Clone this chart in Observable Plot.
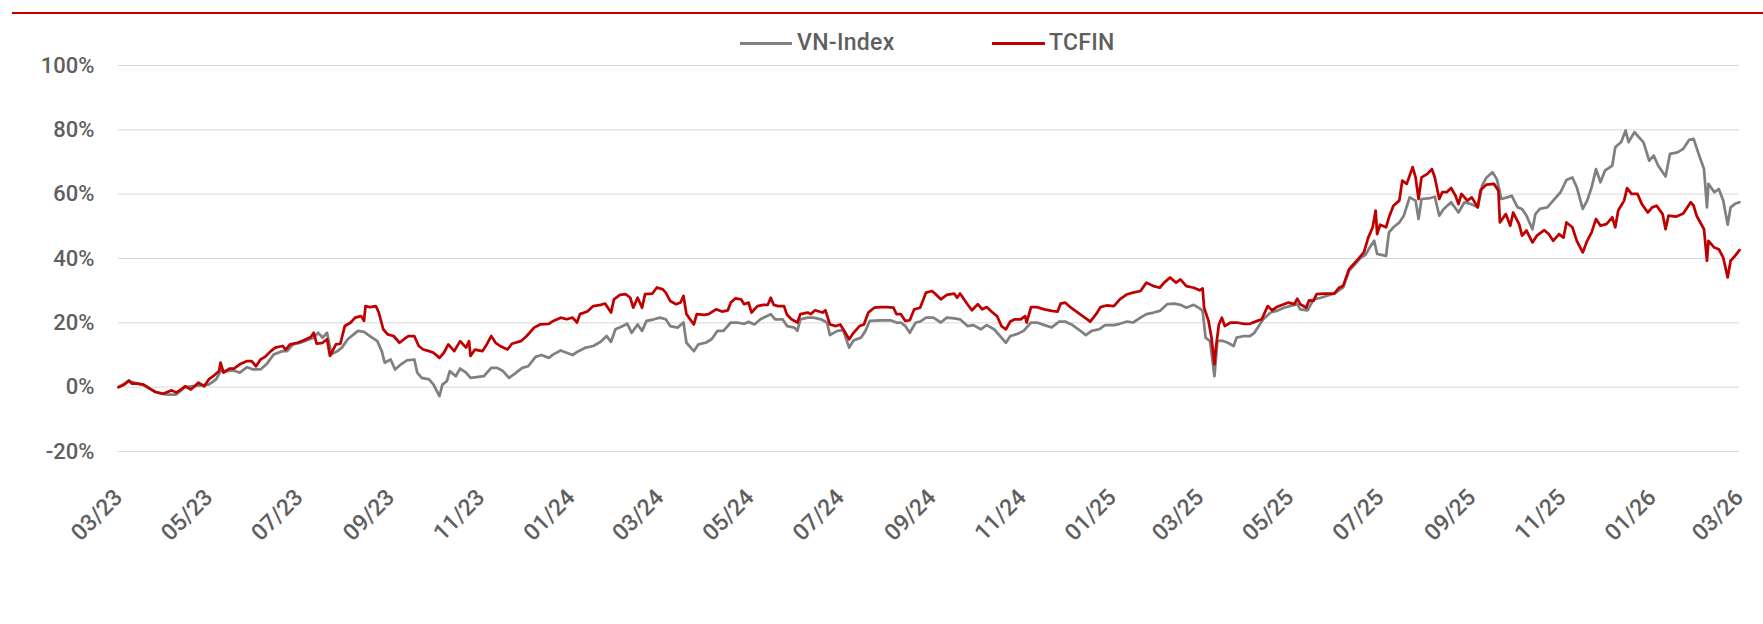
<!DOCTYPE html>
<html>
<head>
<meta charset="utf-8">
<script src="https://cdn.jsdelivr.net/npm/d3@7"></script>
<script src="https://cdn.jsdelivr.net/npm/@observablehq/plot@0.6"></script>
<style>
html,body{margin:0;padding:0;background:#fff;}
#wrap{position:relative;width:1763px;height:624px;overflow:hidden;font-family:Roboto,"DejaVu Sans",sans-serif;font-weight:500;color:#5f5f5f;}
#topline{position:absolute;left:12px;top:12px;width:1751px;height:2px;background:#c00000;}
.sw{position:absolute;height:3px;top:42px;}
.lt{position:absolute;top:29px;font-size:23px;line-height:28px;white-space:nowrap;letter-spacing:0.3px;}
#chart svg{position:absolute;left:0;top:0;}
</style>
</head>
<body>
<div id="wrap">
  <div id="chart"></div>
  <div id="topline"></div>
  <div id="legend"></div>
</div>
<script>
// ---- Data (cumulative return in %) ----
const seriesNames = ["VN-Index", "TCFIN"];
const seriesColors = ["#808080", "#c00000"];
const yTicks = [-20, 0, 20, 40, 60, 80, 100];
const xTickLabels = ["03/23","05/23","07/23","09/23","11/23","01/24","03/24","05/24","07/24","09/24","11/24","01/25","03/25","05/25","07/25","09/25","11/25","01/26","03/26"];

const vnIndex = [
["2023-03-01",0],["2023-03-08",1.9],["2023-03-18",0.6],["2023-03-26",-1.5],["2023-04-03",-2.3],["2023-04-09",-2.3],["2023-04-15",0],["2023-04-23",0.5],
["2023-05-01",0.8],["2023-05-06",2.4],["2023-05-09",5.0],["2023-05-13",5.0],["2023-05-18",5.2],["2023-05-22",4.5],["2023-05-27",6.2],["2023-05-31",5.5],
["2023-06-05",5.5],["2023-06-09",7.1],["2023-06-14",10.2],["2023-06-20",11.2],["2023-06-23",11.2],["2023-06-27",13.3],
["2023-07-02",13.8],["2023-07-06",14.5],["2023-07-11",15.4],["2023-07-14",16.9],["2023-07-17",15.4],["2023-07-20",16.9],["2023-07-23",10.2],["2023-07-27",11.2],["2023-07-30",12.3],
["2023-08-03",14.9],["2023-08-07",16.4],["2023-08-10",17.5],["2023-08-14",17.2],["2023-08-18",15.9],["2023-08-23",14.3],["2023-08-26",11.2],["2023-08-28",7.6],
["2023-09-01",8.6],["2023-09-04",5.5],["2023-09-08",7.1],["2023-09-12",8.3],["2023-09-17",8.6],["2023-09-19",4.5],["2023-09-22",2.9],["2023-09-27",2.4],["2023-09-30",0.8],
["2023-10-04",-2.8],["2023-10-06",0.8],["2023-10-09",1.9],["2023-10-11",5.0],["2023-10-15",3.4],["2023-10-18",5.8],["2023-10-22",4.5],["2023-10-25",2.9],["2023-10-29",3.1],
["2023-11-03",3.4],["2023-11-08",6.0],["2023-11-12",6.0],["2023-11-16",5.0],["2023-11-20",2.9],["2023-11-24",4.2],["2023-11-29",6.0],
["2023-12-03",6.5],["2023-12-08",9.4],["2023-12-12",10.0],["2023-12-17",9.1],["2023-12-20",10.2],["2023-12-25",11.4],["2023-12-29",10.7],
["2024-01-02",10.0],["2024-01-06",11.2],["2024-01-11",12.3],["2024-01-16",12.8],["2024-01-21",14.1],["2024-01-25",15.9],["2024-01-28",14.1],["2024-01-31",18.0],
["2024-02-05",19.0],["2024-02-08",19.7],["2024-02-11",16.9],["2024-02-15",19.5],["2024-02-18",17.5],["2024-02-21",20.6],["2024-02-26",21.1],
["2024-03-01",21.6],["2024-03-05",21.1],["2024-03-08",19.0],["2024-03-13",18.5],["2024-03-17",20.1],["2024-03-19",13.8],["2024-03-24",11.2],["2024-03-27",13.3],
["2024-04-01",13.8],["2024-04-05",14.9],["2024-04-09",17.5],["2024-04-13",17.5],["2024-04-18",20.1],["2024-04-22",20.1],["2024-04-27",19.7],["2024-04-30",20.3],
["2024-05-04",19.5],["2024-05-08",21.1],["2024-05-10",21.6],["2024-05-15",22.7],["2024-05-18",21.1],["2024-05-23",21.1],["2024-05-26",19.0],["2024-05-31",18.5],
["2024-06-02",17.5],["2024-06-04",21.1],["2024-06-09",21.6],["2024-06-13",21.6],["2024-06-18",21.1],["2024-06-22",20.1],["2024-06-24",16.2],["2024-06-29",17.5],
["2024-07-03",17.7],["2024-07-07",12.3],["2024-07-10",14.5],["2024-07-15",15.4],["2024-07-18",17.5],["2024-07-21",20.6],["2024-07-28",20.8],
["2024-08-04",20.8],["2024-08-08",20.1],["2024-08-11",20.1],["2024-08-14",19.0],["2024-08-17",16.9],["2024-08-21",20.1],["2024-08-24",20.4],["2024-08-28",21.6],
["2024-09-02",21.6],["2024-09-07",20.1],["2024-09-11",21.6],["2024-09-16",21.4],["2024-09-20",21.1],["2024-09-25",19.0],["2024-09-29",19.3],
["2024-10-04",18.0],["2024-10-08",19.3],["2024-10-13",18.0],["2024-10-17",15.9],["2024-10-21",13.8],["2024-10-24",15.9],["2024-10-29",16.6],
["2024-11-02",17.5],["2024-11-07",20.1],["2024-11-11",20.1],["2024-11-16",19.3],["2024-11-21",18.6],["2024-11-26",20.4],["2024-11-30",20.4],
["2024-12-05",19.3],["2024-12-09",18.0],["2024-12-14",16.2],["2024-12-18",17.5],["2024-12-23",18.0],["2024-12-27",19.3],
["2025-01-02",19.3],["2025-01-06",19.7],["2025-01-11",20.4],["2025-01-15",20.1],["2025-01-20",21.6],["2025-01-24",22.7],["2025-01-29",23.2],
["2025-02-02",23.7],["2025-02-07",25.8],["2025-02-12",26.0],["2025-02-16",25.6],["2025-02-20",24.7],["2025-02-25",25.6],
["2025-03-01",24.5],["2025-03-03",23.7],["2025-03-05",15.4],["2025-03-08",14.3],["2025-03-11",3.4],["2025-03-13",14.3],["2025-03-16",14.5],["2025-03-20",13.8],["2025-03-24",12.8],["2025-03-26",15.4],["2025-03-31",15.9],
["2025-04-04",15.9],["2025-04-07",16.9],["2025-04-10",19.0],["2025-04-13",21.1],["2025-04-18",23.2],["2025-04-22",23.7],["2025-04-27",24.7],
["2025-05-01",25.2],["2025-05-06",25.8],["2025-05-08",24.2],["2025-05-13",23.9],["2025-05-17",27.3],["2025-05-22",27.8],["2025-05-31",29.1],
["2025-06-06",31.0],["2025-06-10",36.2],["2025-06-14",38.2],["2025-06-18",40.3],["2025-06-21",41.1],["2025-06-24",43.4],["2025-06-27",45.5],["2025-06-29",41.4],
["2025-07-02",41.1],["2025-07-05",40.8],["2025-07-07",48.1],["2025-07-10",49.7],["2025-07-14",51.2],["2025-07-17",53.3],["2025-07-21",59.0],["2025-07-25",58.0],["2025-07-27",52.3],["2025-07-29",58.5],
["2025-08-04",58.8],["2025-08-07",59.2],["2025-08-10",53.3],["2025-08-13",55.4],["2025-08-18",57.5],["2025-08-23",54.3],["2025-08-27",57.5],["2025-08-31",57.0],
["2025-09-05",55.9],["2025-09-08",62.7],["2025-09-11",65.2],["2025-09-15",66.8],["2025-09-18",64.6],["2025-09-21",58.5],["2025-09-25",59.0],["2025-09-28",59.5],
["2025-10-02",55.9],["2025-10-05",55.4],["2025-10-08",53.3],["2025-10-12",49.1],["2025-10-14",53.8],["2025-10-17",55.4],["2025-10-22",55.9],["2025-10-26",58.0],["2025-10-31",60.6],
["2025-11-04",64.4],["2025-11-08",65.2],["2025-11-11",62.1],["2025-11-15",55.4],["2025-11-18",58.0],["2025-11-21",62.1],["2025-11-24",67.8],["2025-11-27",63.7],["2025-11-30",67.3],
["2025-12-05",68.9],["2025-12-07",74.6],["2025-12-11",76.2],["2025-12-14",79.8],["2025-12-16",76.2],["2025-12-20",79.3],["2025-12-23",77.7],["2025-12-26",76.2],["2025-12-30",70.4],
["2026-01-02",72.0],["2026-01-05",68.9],["2026-01-10",65.5],["2026-01-13",72.5],["2026-01-18",73.0],["2026-01-22",74.1],["2026-01-26",76.9],["2026-01-29",77.2],
["2026-02-01",73.0],["2026-02-05",67.8],["2026-02-07",55.9],["2026-02-08",63.2],["2026-02-12",60.6],["2026-02-15",61.6],["2026-02-18",58.0],["2026-02-21",50.5],["2026-02-23",55.9],["2026-02-26",57.0],
["2026-03-01",57.5]
];

const tcfin = [
["2023-03-01",0],["2023-03-05",0.8],["2023-03-08",2.1],["2023-03-10",1.1],["2023-03-14",1.1],["2023-03-18",0.8],["2023-03-23",-0.7],["2023-03-26",-1.5],["2023-03-31",-2.1],
["2023-04-03",-1.5],["2023-04-06",-1.0],["2023-04-09",-1.7],["2023-04-12",-0.8],["2023-04-15",0.3],["2023-04-19",-0.7],["2023-04-22",0.5],["2023-04-24",1.4],["2023-04-28",0.3],
["2023-05-01",2.4],["2023-05-04",3.4],["2023-05-08",5.0],["2023-05-09",7.6],["2023-05-11",4.5],["2023-05-15",5.8],["2023-05-18",5.8],["2023-05-22",7.1],["2023-05-27",8.1],["2023-05-30",8.1],
["2023-06-02",6.5],["2023-06-05",8.6],["2023-06-08",9.4],["2023-06-12",11.2],["2023-06-15",12.3],["2023-06-20",12.8],["2023-06-22",11.7],["2023-06-25",13.3],["2023-06-30",13.8],
["2023-07-04",14.5],["2023-07-09",15.6],["2023-07-11",16.9],["2023-07-13",13.5],["2023-07-17",13.8],["2023-07-20",14.9],["2023-07-22",9.7],["2023-07-26",13.3],["2023-07-29",13.5],
["2023-08-01",19.0],["2023-08-05",20.1],["2023-08-08",21.6],["2023-08-12",22.1],["2023-08-14",20.6],["2023-08-15",25.2],["2023-08-18",24.9],["2023-08-22",25.2],["2023-08-24",23.2],["2023-08-27",18.0],["2023-08-30",16.4],
["2023-09-03",15.9],["2023-09-07",13.8],["2023-09-10",14.9],["2023-09-13",15.9],["2023-09-17",15.9],["2023-09-20",12.8],["2023-09-23",11.7],["2023-09-27",11.2],["2023-09-30",10.7],
["2023-10-04",9.1],["2023-10-07",10.7],["2023-10-10",13.3],["2023-10-14",11.2],["2023-10-18",14.3],["2023-10-22",12.3],["2023-10-24",14.3],["2023-10-25",9.7],["2023-10-28",11.7],
["2023-11-02",11.2],["2023-11-05",13.3],["2023-11-08",15.9],["2023-11-11",13.8],["2023-11-14",12.8],["2023-11-19",11.7],["2023-11-22",13.5],["2023-11-28",14.3],
["2023-12-02",15.9],["2023-12-07",18.5],["2023-12-11",19.5],["2023-12-17",19.7],["2023-12-20",20.6],["2023-12-25",21.6],["2023-12-29",21.1],
["2024-01-02",21.6],["2024-01-05",20.1],["2024-01-07",22.7],["2024-01-12",23.5],["2024-01-16",25.2],["2024-01-21",25.6],["2024-01-24",26.0],["2024-01-28",23.2],["2024-01-30",27.3],
["2024-02-03",28.7],["2024-02-07",28.9],["2024-02-10",27.8],["2024-02-12",24.7],["2024-02-15",27.8],["2024-02-18",24.7],["2024-02-20",28.9],["2024-02-25",29.1],["2024-02-28",31.0],
["2024-03-03",30.4],["2024-03-05",29.4],["2024-03-08",26.8],["2024-03-12",25.8],["2024-03-15",26.3],["2024-03-17",28.4],["2024-03-19",22.7],["2024-03-24",19.5],["2024-03-26",22.7],["2024-03-31",22.5],
["2024-04-03",22.7],["2024-04-08",24.2],["2024-04-12",23.5],["2024-04-16",23.9],["2024-04-18",26.3],["2024-04-21",27.6],["2024-04-25",27.3],["2024-04-27",25.8],["2024-04-30",26.3],
["2024-05-02",23.2],["2024-05-06",25.2],["2024-05-10",25.6],["2024-05-13",25.6],["2024-05-15",27.8],["2024-05-17",25.6],["2024-05-20",25.2],["2024-05-24",25.2],["2024-05-26",22.5],["2024-05-29",21.1],
["2024-06-02",20.1],["2024-06-04",22.7],["2024-06-09",23.2],["2024-06-11",22.7],["2024-06-14",23.9],["2024-06-19",23.2],["2024-06-21",23.9],["2024-06-24",19.5],["2024-06-28",19.0],
["2024-07-01",19.5],["2024-07-03",18.0],["2024-07-07",14.9],["2024-07-10",16.9],["2024-07-14",19.0],["2024-07-17",19.5],["2024-07-20",23.2],["2024-07-24",24.7],["2024-07-28",24.9],
["2024-08-02",24.9],["2024-08-06",24.7],["2024-08-08",22.7],["2024-08-11",22.7],["2024-08-14",20.6],["2024-08-17",20.8],["2024-08-20",24.2],["2024-08-24",24.7],["2024-08-28",29.4],
["2024-09-01",29.9],["2024-09-03",29.1],["2024-09-07",27.3],["2024-09-11",28.7],["2024-09-16",29.1],["2024-09-18",27.8],["2024-09-20",29.1],["2024-09-25",25.8],["2024-09-28",23.9],
["2024-10-02",25.8],["2024-10-05",24.2],["2024-10-08",24.9],["2024-10-12",23.2],["2024-10-15",22.1],["2024-10-18",19.0],["2024-10-21",18.0],["2024-10-24",20.4],["2024-10-27",21.1],["2024-10-31",21.1],
["2024-11-03",22.1],["2024-11-04",20.1],["2024-11-07",24.9],["2024-11-11",24.9],["2024-11-16",24.2],["2024-11-21",23.7],["2024-11-25",23.5],["2024-11-27",26.0],["2024-11-30",26.3],
["2024-12-04",24.7],["2024-12-07",23.7],["2024-12-10",22.7],["2024-12-15",21.1],["2024-12-17",20.4],["2024-12-21",22.7],["2024-12-24",24.9],["2024-12-28",25.4],
["2025-01-02",25.2],["2025-01-06",27.3],["2025-01-11",28.9],["2025-01-15",29.4],["2025-01-20",29.9],["2025-01-24",32.5],["2025-01-29",31.4],
["2025-02-02",30.9],["2025-02-05",32.5],["2025-02-09",34.1],["2025-02-13",32.5],["2025-02-16",33.5],["2025-02-20",31.4],["2025-02-25",30.9],
["2025-03-01",30.1],["2025-03-03",30.7],["2025-03-04",24.7],["2025-03-07",20.6],["2025-03-09",15.4],["2025-03-11",7.1],["2025-03-12",12.3],["2025-03-14",19.5],["2025-03-16",21.6],["2025-03-18",19.0],["2025-03-22",20.1],["2025-03-26",20.1],["2025-03-31",19.7],
["2025-04-04",19.7],["2025-04-09",20.6],["2025-04-12",21.1],["2025-04-16",25.2],["2025-04-19",23.9],["2025-04-22",24.9],["2025-04-27",25.8],["2025-04-30",26.3],
["2025-05-04",25.8],["2025-05-06",27.5],["2025-05-08",25.8],["2025-05-12",24.7],["2025-05-14",27.0],["2025-05-17",26.8],["2025-05-19",28.9],["2025-05-24",29.1],["2025-05-31",29.1],
["2025-06-03",30.8],["2025-06-06",31.5],["2025-06-10",36.7],["2025-06-13",38.2],["2025-06-17",40.3],["2025-06-20",41.9],["2025-06-23",46.5],["2025-06-26",49.7],["2025-06-28",54.9],["2025-06-29",47.6],
["2025-07-01",50.5],["2025-07-05",49.7],["2025-07-07",52.8],["2025-07-10",56.4],["2025-07-14",58.0],["2025-07-16",64.2],["2025-07-19",63.2],["2025-07-23",68.4],["2025-07-25",65.2],["2025-07-27",58.5],["2025-07-29",65.2],
["2025-08-02",66.3],["2025-08-05",67.8],["2025-08-07",65.2],["2025-08-10",58.5],["2025-08-12",60.6],["2025-08-15",60.6],["2025-08-18",61.9],["2025-08-21",59.5],["2025-08-23",56.9],["2025-08-25",60.1],["2025-08-29",58.0],
["2025-09-01",59.0],["2025-09-05",55.9],["2025-09-07",61.3],["2025-09-11",63.0],["2025-09-16",63.2],["2025-09-19",61.1],["2025-09-20",51.2],["2025-09-24",53.8],["2025-09-27",50.2],["2025-09-29",54.3],
["2025-10-03",50.7],["2025-10-05",47.1],["2025-10-08",48.7],["2025-10-12",45.0],["2025-10-15",47.1],["2025-10-20",48.8],["2025-10-23",47.6],["2025-10-26",45.5],["2025-10-30",47.6],
["2025-11-02",46.5],["2025-11-04",51.2],["2025-11-08",49.7],["2025-11-11",45.5],["2025-11-15",41.9],["2025-11-18",45.5],["2025-11-21",48.1],["2025-11-24",52.3],["2025-11-27",50.2],
["2025-12-01",50.7],["2025-12-05",52.8],["2025-12-07",49.7],["2025-12-09",54.9],["2025-12-13",58.0],["2025-12-15",61.9],["2025-12-18",60.1],["2025-12-22",60.1],["2025-12-25",56.9],["2025-12-29",54.3],
["2026-01-01",55.9],["2026-01-04",56.4],["2026-01-08",53.8],["2026-01-10",49.1],["2026-01-12",53.3],["2026-01-17",53.0],["2026-01-22",54.0],["2026-01-27",57.5],["2026-01-29",56.4],["2026-01-31",53.3],
["2026-02-05",49.1],["2026-02-07",39.3],["2026-02-08",45.5],["2026-02-12",43.4],["2026-02-15",42.9],["2026-02-18",40.3],["2026-02-21",34.1],["2026-02-23",39.3],["2026-02-26",40.8],
["2026-03-01",42.6]
];

// ---- Build tables ----
const parseTick = d3.utcParse("%m/%y");
const tickDates = xTickLabels.map(parseTick);
const toRows = (arr) => arr.map(([d, v]) => ({date: new Date(d + "T00:00:00Z"), value: v}));
const vnRows = toRows(vnIndex);
const tcRows = toRows(tcfin);

const FONT = 'Roboto,"DejaVu Sans",sans-serif';

const chart = Plot.plot({
  width: 1763,
  height: 624,
  marginLeft: 118,
  marginRight: 24,
  marginTop: 65,
  marginBottom: 173,
  style: {fontFamily: FONT, fontSize: "22px", fontWeight: 500, color: "#5f5f5f", background: "transparent", overflow: "visible"},
  x: {type: "utc", domain: [tickDates[0], tickDates[tickDates.length - 1]], label: null},
  y: {domain: [yTicks[0], yTicks[yTicks.length - 1]], label: null},
  marks: [
    Plot.gridY(yTicks, {stroke: "#d9d9d9", strokeOpacity: 1, strokeWidth: 1}),
    Plot.axisY(yTicks, {tickSize: 0, tickPadding: 24, tickFormat: d => d + "%", fill: "#5f5f5f", fontSize: 22, label: null}),
    Plot.axisX(tickDates, {tickSize: 0, tickPadding: 42, tickRotate: -45, tickFormat: d3.utcFormat("%m/%y"), fill: "#5f5f5f", fontSize: 23, label: null}),
    Plot.line(vnRows, {x: "date", y: "value", stroke: seriesColors[0], strokeWidth: 2.75, strokeLinejoin: "round", strokeLinecap: "round"}),
    Plot.line(tcRows, {x: "date", y: "value", stroke: seriesColors[1], strokeWidth: 2.75, strokeLinejoin: "round", strokeLinecap: "round"})
  ]
});
document.getElementById("chart").appendChild(chart);

// ---- Legend ----
const legend = document.getElementById("legend");
const legendPos = [{sw: 740, w: 52, tx: 797}, {sw: 992, w: 53, tx: 1049}];
seriesNames.forEach((name, i) => {
  const sw = document.createElement("div");
  sw.className = "sw";
  sw.style.left = legendPos[i].sw + "px";
  sw.style.width = legendPos[i].w + "px";
  sw.style.background = seriesColors[i];
  legend.appendChild(sw);
  const t = document.createElement("div");
  t.className = "lt";
  t.style.left = legendPos[i].tx + "px";
  t.textContent = name;
  legend.appendChild(t);
});
</script>
</body>
</html>
